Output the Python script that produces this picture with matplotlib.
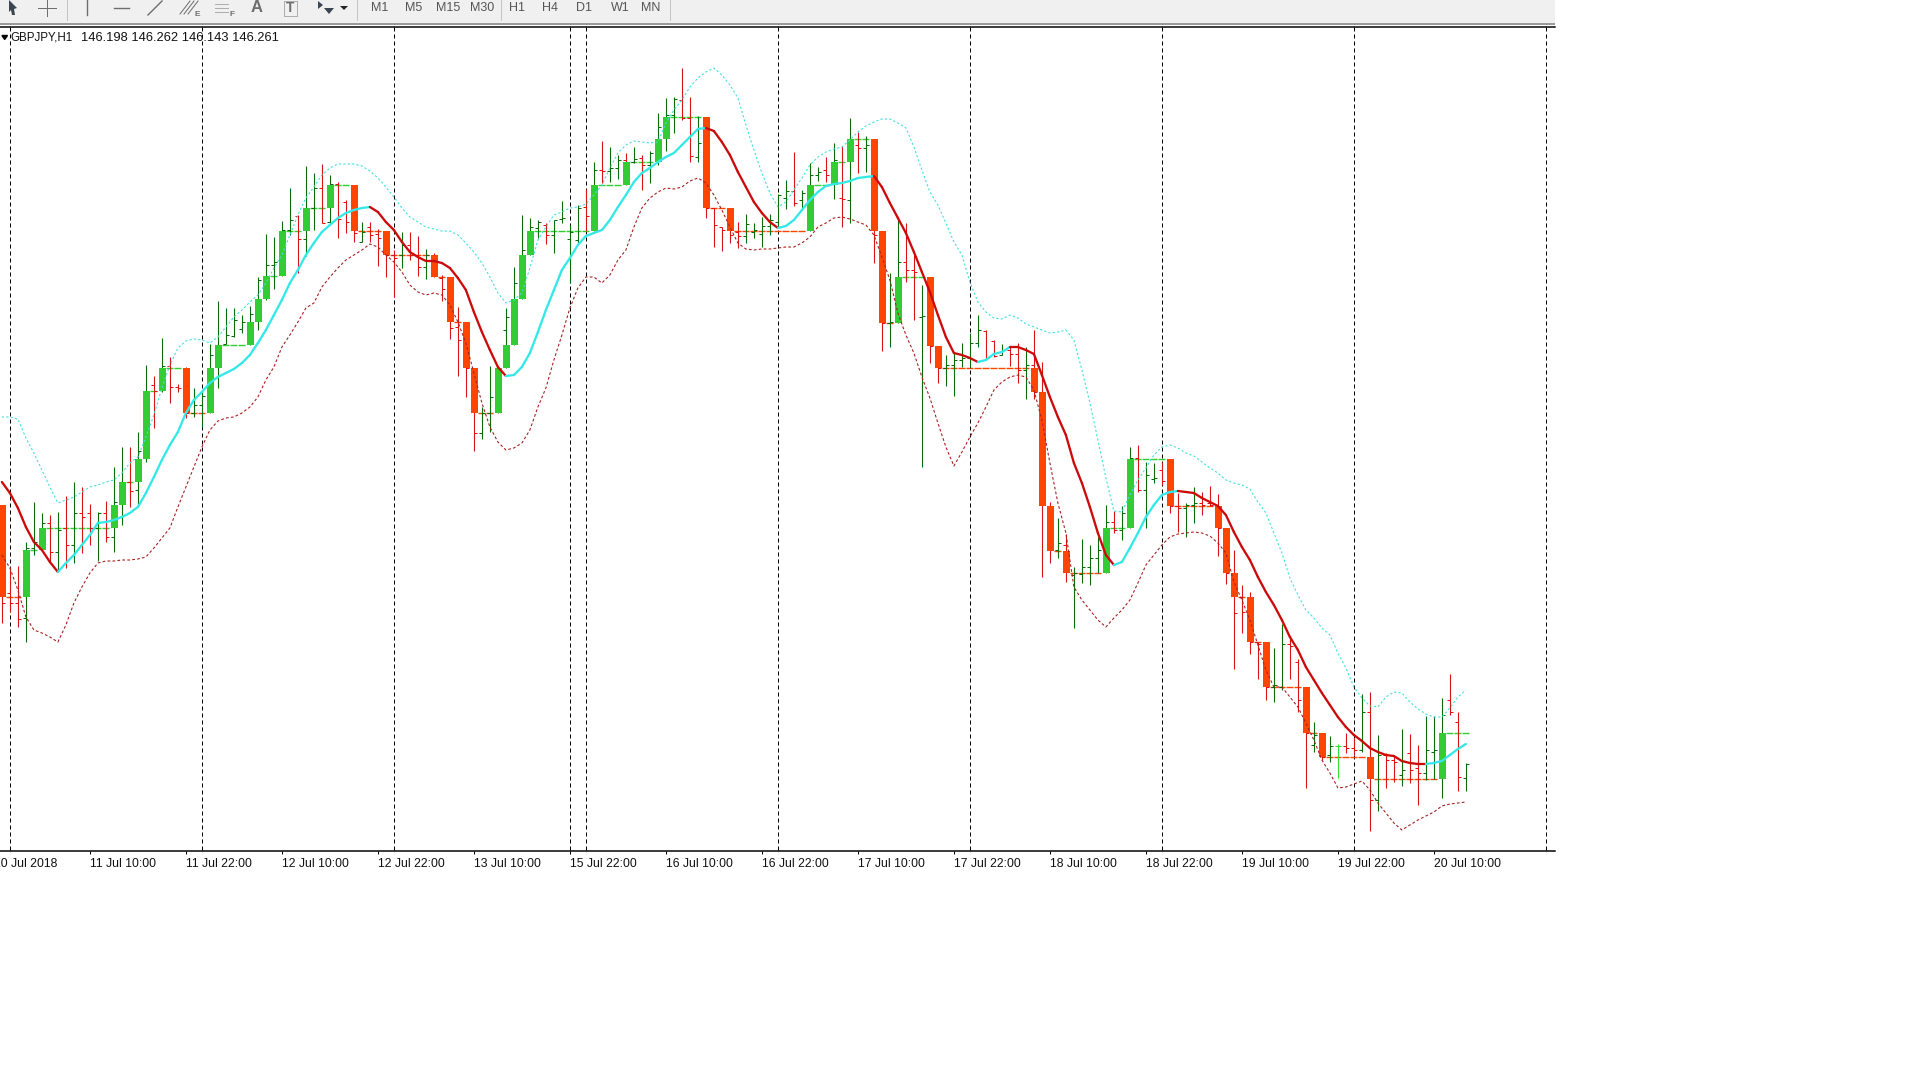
import matplotlib
matplotlib.use("Agg")
from matplotlib import pyplot as plt
from matplotlib.patches import Polygon, Rectangle

# no price scale is visible in the picture, so values are read as chart rows
# (bigger number = lower price)
highs = [545, 567, 566, 542, 502, 513, 515, 512, 496, 482, 487, 504, 512, 501, 467, 447, 447, 432, 365, 376,
         338, 357, 384, 367, 388, 390, 344, 301, 308, 308, 315, 306, 277, 234, 237, 221, 188, 215, 166, 173,
         164, 175, 182, 200, 185, 222, 222, 229, 231, 250, 232, 232, 236, 249, 253, 275, 277, 307, 322, 370,
         407, 366, 368, 308, 267, 215, 218, 220, 223, 220, 201, 225, 205, 189, 162, 141, 147, 155, 153, 147,
         155, 151, 113, 98, 97, 68, 97, 116, 120, 208, 227, 208, 222, 214, 223, 217, 214, 194, 180, 152,
         190, 163, 167, 157, 143, 146, 118, 132, 136, 139, 231, 273, 217, 223, 255, 285, 277, 346, 355, 353,
         343, 333, 315, 330, 340, 344, 347, 343, 347, 330, 362, 502, 518, 534, 567, 539, 545, 537, 505, 511,
         506, 447, 445, 462, 463, 462, 459, 493, 503, 487, 492, 486, 494, 528, 550, 585, 592, 642, 642, 648,
         624, 636, 659, 687, 722, 733, 736, 744, 733, 738, 694, 692, 735, 753, 756, 729, 734, 745, 716, 716,
         698, 674, 712, 763]
lows = [623, 612, 627, 642, 555, 550, 562, 570, 568, 563, 553, 545, 561, 542, 552, 525, 507, 507, 462, 428,
        392, 403, 392, 418, 417, 427, 413, 388, 344, 337, 333, 345, 330, 300, 289, 276, 235, 273, 256, 230,
        223, 223, 238, 233, 242, 242, 242, 266, 277, 297, 268, 260, 276, 279, 277, 301, 339, 376, 397, 451,
        439, 432, 413, 368, 345, 299, 255, 238, 244, 253, 223, 283, 243, 231, 231, 183, 182, 179, 185, 163,
        190, 183, 165, 151, 133, 120, 162, 162, 218, 247, 251, 243, 248, 243, 238, 247, 235, 227, 209, 206,
        210, 231, 181, 182, 199, 227, 223, 173, 172, 263, 351, 347, 323, 282, 320, 467, 363, 383, 386, 396,
        367, 368, 347, 360, 357, 355, 366, 383, 399, 399, 577, 563, 558, 582, 628, 583, 585, 573, 573, 533,
        540, 528, 492, 528, 483, 485, 513, 532, 537, 523, 515, 506, 556, 584, 669, 633, 654, 679, 700, 702,
        690, 679, 712, 788, 752, 760, 762, 778, 753, 755, 752, 831, 811, 788, 782, 786, 783, 805, 780, 779,
        798, 715, 791, 791]
opens = [560, 593, 603, 618, 548, 542, 523, 552, 528, 545, 513, 513, 528, 513, 537, 502, 482, 490, 451, 385,
         390, 366, 387, 387, 413, 405, 396, 355, 344, 336, 329, 329, 313, 280, 265, 262, 230, 216, 239, 208,
         188, 222, 184, 202, 220, 242, 227, 234, 238, 255, 255, 245, 255, 267, 255, 278, 289, 327, 340, 370,
         433, 413, 397, 330, 317, 283, 250, 228, 225, 235, 219, 239, 240, 207, 216, 170, 171, 168, 160, 162,
         158, 165, 153, 127, 115, 100, 118, 157, 143, 208, 227, 230, 232, 236, 232, 234, 226, 222, 198, 191,
         200, 193, 175, 170, 175, 198, 200, 145, 148, 145, 235, 323, 320, 262, 270, 317, 316, 346, 368, 365,
         360, 358, 343, 331, 341, 355, 350, 354, 370, 365, 392, 506, 550, 545, 575, 574, 567, 558, 545, 522,
         530, 513, 458, 490, 479, 470, 481, 506, 508, 505, 503, 503, 506, 530, 573, 597, 610, 642, 644, 687,
         687, 644, 662, 700, 745, 738, 755, 746, 746, 748, 750, 712, 800, 755, 760, 775, 753, 768, 773, 752,
         750, 700, 722, 778]
closes = [603, 603, 619, 548, 542, 523, 552, 530, 545, 513, 517, 528, 513, 537, 502, 482, 491, 451, 391, 391,
          366, 387, 388, 413, 405, 396, 355, 345, 335, 320, 322, 314, 280, 265, 262, 230, 220, 239, 208, 188,
          223, 184, 219, 222, 233, 232, 235, 238, 255, 258, 245, 255, 267, 255, 274, 289, 328, 340, 368, 433,
          413, 397, 380, 317, 283, 250, 227, 222, 235, 220, 218, 232, 208, 216, 170, 171, 168, 160, 162, 159,
          165, 153, 127, 115, 99, 118, 156, 143, 208, 225, 230, 235, 236, 224, 230, 226, 220, 195, 191, 203,
          193, 175, 172, 175, 160, 199, 145, 148, 145, 235, 323, 322, 262, 270, 272, 316, 346, 368, 365, 360,
          358, 343, 330, 358, 356, 350, 354, 370, 365, 392, 500, 550, 543, 570, 573, 567, 558, 550, 522, 530,
          513, 458, 490, 475, 478, 481, 506, 508, 505, 503, 505, 505, 528, 573, 613, 612, 642, 644, 687, 685,
          644, 646, 700, 733, 735, 757, 746, 746, 748, 750, 712, 800, 755, 760, 762, 770, 770, 773, 750, 750,
          715, 712, 777, 764]

# level reached by the coloured blocks after each bar, they start from first_level
first_level = 505
levels = [597, 597, 597, 550, 550, 528, 528, 528, 528, 528, 528, 528, 528, 528, 505, 482, 482, 459, 391, 391,
          368, 368, 368, 413, 413, 413, 368, 345, 345, 345, 345, 322, 299, 276, 276, 231, 231, 231, 208, 208,
          208, 185, 185, 185, 231, 231, 231, 231, 255, 255, 255, 255, 255, 255, 277, 277, 322, 322, 368, 413,
          413, 413, 368, 345, 299, 255, 231, 231, 231, 231, 231, 231, 231, 231, 185, 185, 185, 185, 162, 162,
          162, 162, 139, 117, 117, 117, 117, 117, 208, 208, 208, 231, 231, 231, 231, 231, 231, 231, 231, 231,
          231, 185, 185, 185, 162, 162, 139, 139, 139, 231, 323, 323, 277, 277, 277, 277, 346, 368, 368, 368,
          368, 368, 368, 368, 368, 368, 368, 368, 368, 392, 506, 551, 551, 573, 573, 573, 573, 573, 528, 528,
          528, 459, 459, 459, 459, 459, 506, 506, 506, 506, 506, 506, 528, 573, 597, 597, 642, 642, 687, 687,
          687, 687, 687, 733, 733, 757, 757, 757, 757, 757, 757, 779, 779, 779, 779, 779, 779, 779, 779, 779,
          733, 733, 733, 733]

ma_line = [482, 493, 508, 527, 542, 550, 562, 572, 563, 555, 545, 535, 523, 522, 520, 517, 513, 507, 493, 477,
           460, 445, 432, 413, 400, 392, 383, 377, 373, 369, 363, 355, 343, 330, 315, 300, 283, 270, 255, 243,
           232, 225, 218, 213, 210, 208, 207, 212, 222, 230, 242, 252, 257, 261, 261, 263, 268, 278, 290, 312,
           332, 350, 367, 376, 375, 367, 353, 332, 310, 290, 270, 258, 245, 236, 233, 230, 220, 207, 195, 182,
           173, 168, 162, 157, 153, 145, 137, 129, 128, 131, 142, 155, 172, 187, 202, 213, 222, 228, 226, 220,
           210, 200, 192, 186, 184, 183, 181, 178, 177, 176, 187, 203, 218, 233, 252, 272, 292, 315, 337, 353,
           355, 358, 362, 360, 354, 352, 347, 347, 350, 354, 375, 397, 417, 435, 463, 483, 507, 533, 555, 565,
           562, 548, 533, 517, 505, 495, 492, 491, 492, 493, 498, 502, 506, 515, 532, 547, 560, 577, 592, 605,
           620, 637, 650, 667, 680, 693, 705, 717, 727, 735, 741, 748, 752, 755, 756, 761, 763, 764, 764, 763,
           761, 755, 749, 744]
upper_band = [417, 417, 419, 438, 453, 470, 487, 503, 500, 497, 492, 487, 485, 482, 480, 473, 463, 457, 437, 415,
              388, 365, 348, 341, 339, 340, 343, 337, 327, 317, 310, 302, 295, 283, 268, 255, 235, 215, 198, 187,
              175, 168, 164, 164, 164, 166, 171, 178, 187, 197, 208, 217, 222, 227, 229, 231, 231, 235, 243, 252,
              263, 277, 293, 303, 300, 293, 268, 240, 227, 215, 212, 208, 207, 204, 195, 185, 168, 153, 145, 141,
              142, 143, 142, 123, 110, 100, 87, 78, 72, 68, 75, 85, 98, 125, 150, 173, 193, 207, 202, 190,
              178, 165, 157, 152, 149, 147, 140, 132, 126, 122, 119, 119, 123, 128, 147, 170, 192, 205, 223, 242,
              255, 282, 302, 312, 318, 319, 315, 318, 324, 327, 330, 333, 332, 330, 340, 370, 403, 440, 478, 511,
              512, 495, 480, 468, 455, 447, 445, 448, 453, 456, 462, 468, 473, 480, 483, 485, 489, 502, 513, 533,
              553, 578, 595, 610, 618, 628, 635, 653, 668, 687, 698, 706, 707, 697, 692, 693, 702, 709, 714, 717,
              717, 708, 697, 690]
lower_band = [555, 568, 590, 617, 630, 633, 637, 642, 625, 603, 587, 573, 563, 561, 561, 560, 560, 559, 557, 548,
              538, 528, 507, 487, 467, 447, 430, 421, 418, 417, 413, 407, 397, 380, 367, 347, 335, 322, 308, 303,
              287, 277, 268, 260, 255, 250, 244, 247, 255, 262, 272, 285, 292, 295, 293, 295, 305, 322, 343, 373,
              403, 427, 442, 450, 448, 443, 430, 407, 388, 360, 335, 308, 288, 277, 277, 283, 275, 260, 250, 227,
              208, 198, 192, 188, 189, 187, 181, 178, 183, 195, 210, 227, 243, 249, 250, 249, 249, 248, 247, 247,
              243, 237, 227, 223, 218, 217, 219, 222, 225, 235, 257, 280, 313, 335, 353, 377, 398, 423, 447, 466,
              452, 437, 423, 407, 390, 382, 377, 375, 377, 390, 420, 463, 503, 533, 587, 600, 610, 620, 627, 618,
              610, 600, 583, 565, 555, 545, 537, 534, 533, 532, 533, 536, 543, 553, 582, 600, 620, 645, 670, 687,
              687, 697, 707, 723, 740, 760, 773, 788, 787, 784, 781, 790, 803, 813, 823, 830, 825, 820, 816, 812,
              806, 804, 803, 802]

assert all(len(s) == 184 for s in (highs, lows, opens, closes, levels, ma_line, upper_band, lower_band))

session_bars = [1, 25, 49, 71, 73, 97, 121, 145, 169, 193]  # dashed period separators
tick_bars = [-1, 11, 23, 35, 47, 59, 71, 83, 95, 107, 119, 131, 143, 155, 167, 179]
tick_labels = ["10 Jul 2018", "11 Jul 10:00", "11 Jul 22:00", "12 Jul 10:00", "12 Jul 22:00",
               "13 Jul 10:00", "15 Jul 22:00", "16 Jul 10:00", "16 Jul 22:00", "17 Jul 10:00",
               "17 Jul 22:00", "18 Jul 10:00", "18 Jul 22:00", "19 Jul 10:00", "19 Jul 22:00",
               "20 Jul 10:00"]
header_name = "GBPJPY,H1"
header_prices = "146.198 146.262 146.143 146.261"
timeframes = ["M1", "M5", "M15", "M30", "H1", "H4", "D1", "W1", "MN"]

BULL = "#32cd32"
BEAR = "#ff4500"
BAR_UP = "#0a6b0a"
BAR_DOWN = "#d81414"
LIVE_BAR = 167  # this one is drawn brighter in the terminal
PX = 0.72  # one pixel in points at dpi 100
BODY_NUDGE = 0.1  # wicks and blocks round to different pixels, this centres the blocks

plt.rcParams["font.family"] = ["Liberation Sans", "DejaVu Sans"]
fig = plt.figure(figsize=(19.2, 10.8), dpi=100)

# chart runs a bit off the left edge so the first date label gets cut
ax = fig.add_axes([-20.6 / 1920, (1080 - 851) / 1080, 1575.6 / 1920, (851 - 27) / 1080])
ax.set_xlim(-22.5 / 8, (1552.5 + 0.6) / 8)
ax.set_ylim(851, 27)
for side in ["left", "right"]:
    ax.spines[side].set_visible(False)
for side in ["top", "bottom"]:
    ax.spines[side].set_linewidth(1.5 * PX)
ax.yaxis.set_visible(False)
ax.set_xticks(tick_bars, tick_labels, ha="left", fontsize=8.8, color="#111111")
ax.tick_params(axis="x", length=3 * PX, width=PX, pad=2.8)

ax.vlines(session_bars, 27, 851, color="black", lw=PX, linestyles=(0, (4, 3)), zorder=1)

xs = list(range(len(levels)))
prev_levels = [first_level] + levels[:-1]

# flat blocks are just a line across the bar, they keep the last direction colour
direction = BEAR
for i in xs:
    if levels[i] < prev_levels[i]:
        direction = BULL
    elif levels[i] > prev_levels[i]:
        direction = BEAR
    if levels[i] == prev_levels[i]:
        ax.hlines(levels[i], i - 0.44, i + 0.44, color=direction, lw=1.4 * PX, zorder=2)
    else:
        ax.bar(i + BODY_NUDGE, abs(levels[i] - prev_levels[i]), bottom=min(levels[i], prev_levels[i]),
               width=0.875, color=direction, lw=0, zorder=4)

for i in xs:
    col = BAR_UP if closes[i] < opens[i] else BAR_DOWN
    if i == LIVE_BAR:
        col = "#32e032"
    ax.vlines(i, highs[i], lows[i], color=col, lw=1.1 * PX, zorder=3)
    ax.hlines(opens[i], i - 0.375, i, color=col, lw=PX, zorder=3)
    ax.hlines(closes[i], i, i + 0.375, color=col, lw=PX, zorder=3)

ax.plot(xs, upper_band, color="#3fe0e0", lw=PX * 1.1, linestyle=(0, (2, 2)), zorder=5)
ax.plot(xs, lower_band, color="#a82020", lw=PX * 1.1, linestyle=(0, (2.5, 2)), zorder=5)

# moving average changes colour with its direction
for i in xs[:-1]:
    col = "#35e8e8" if ma_line[i + 1] < ma_line[i] else "#cc0a0a"
    ax.plot(xs[i:i + 2], ma_line[i:i + 2], color=col, lw=2.3 * PX, solid_capstyle="round", zorder=6)

ax.text(11 / 8 - 0.3125, 38, header_name, fontsize=8.3, va="center", color="#111111", zorder=7)
ax.text(82 / 8 - 0.3125, 38, header_prices, fontsize=9.3, va="center", color="#111111", zorder=7)
ax.add_patch(Polygon([(0.0, 35.5), (0.7, 35.5), (0.35, 39.5)], color="black", zorder=7))

# toolbar on top, in plain pixel coordinates
bar = fig.add_axes([0, (1080 - 25) / 1080, 1555 / 1920, 25 / 1080])
bar.set_xlim(0, 1555)
bar.set_ylim(25, 0)
bar.axis("off")
bar.add_patch(Rectangle((0, 0), 1555, 23, color="#f0f0f0", lw=0))
bar.plot([0, 1555], [23.5, 23.5], color="#9a9a9a", lw=2 * PX)
for x in [67, 357, 501, 670]:
    bar.plot([x, x], [0, 20], color="#c4c4c4", lw=PX)
grey = "#6e6e6e"
bar.add_patch(Polygon([(9, 0), (17, 8), (14, 9), (15, 15), (12, 15), (11, 10), (9, 12)], color="#3c4650", lw=0))
bar.plot([47, 47], [0, 16], color=grey, lw=PX)
bar.plot([38, 56], [8, 8], color=grey, lw=PX)
bar.plot([87, 87], [0, 15], color=grey, lw=1.4 * PX)
bar.plot([114, 129], [8, 8], color=grey, lw=1.4 * PX)
bar.plot([148, 162], [15, 1], color=grey, lw=1.4 * PX)
for d in [0, 4, 8]:
    bar.plot([180 + d, 190 + d], [14, 1], color=grey, lw=PX)
bar.text(197, 14, "E", fontsize=6, fontweight="bold", color=grey, ha="center", va="center")
for y in [4, 8, 12]:
    bar.plot([215, 229], [y, y], color=grey, lw=PX, linestyle=(0, (1, 1)))
bar.text(232, 15, "F", fontsize=6, fontweight="bold", color=grey, ha="center", va="center")
bar.text(257, 8, "A", fontsize=12, fontweight="bold", color=grey, ha="center", va="center")
bar.add_patch(Rectangle((284, 1), 13, 15, fill=False, ec=grey, lw=PX, linestyle=(0, (1, 1))))
bar.text(290.5, 8.5, "T", fontsize=10, fontweight="bold", color=grey, ha="center", va="center")
bar.add_patch(Polygon([(318, 1), (323, 5), (318, 9)], color="#3c4650", lw=0))
bar.add_patch(Polygon([(324, 8), (334, 8), (329, 14)], color="#3c4650", lw=0))
bar.add_patch(Polygon([(340, 6), (348, 6), (344, 10)], color="#222222", lw=0))
for x, label in zip([380, 414, 448, 482, 517, 550, 584, 620, 651], timeframes):
    bar.text(x, 8, label, fontsize=9, color="#555555", ha="center", va="center")

fig.savefig("out.png", dpi=100, facecolor="white")
